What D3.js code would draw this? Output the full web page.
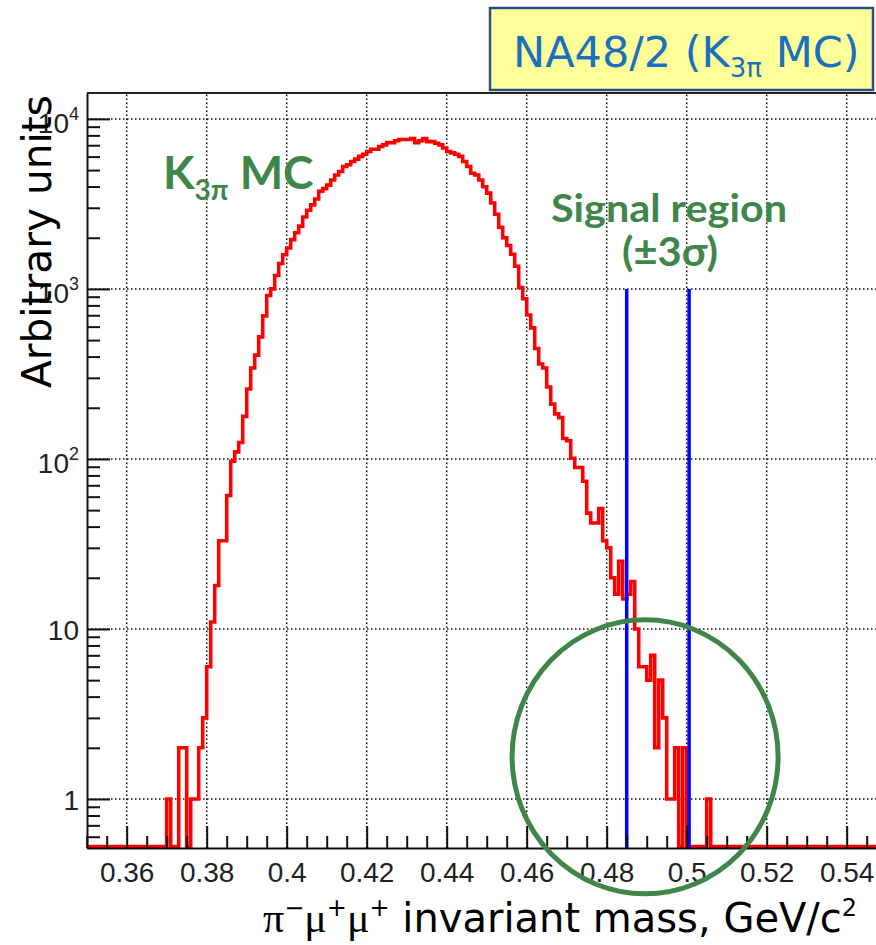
<!DOCTYPE html>
<html>
<head>
<meta charset="utf-8">
<script src="https://cdn.jsdelivr.net/npm/d3@7"></script>
<style>
  body { margin: 0; background: #fff; }
  svg { display: block; }
</style>
</head>
<body>
<div id="chart"></div>
<script>
// K3pi MC, pi- mu+ mu+ invariant mass (GeV/c2), 1 MeV bins starting at 0.370
const binStart = 0.370
const binWidth = 0.001
const counts = [
  1, 0, 0, 2, 2, 0, 1, 1, 2, 3, // 0.370
  6, 11, 18, 33, 33, 61, 97, 110, 125, 178, // 0.380
  258, 343, 408, 522, 694, 915, 1000, 1200, 1410, 1590, // 0.390
  1740, 1950, 2140, 2340, 2650, 2900, 3120, 3380, 3750, 3890, // 0.400
  4080, 4370, 4680, 4900, 5250, 5370, 5620, 5800, 6020, 6200, // 0.410
  6430, 6630, 6630, 6880, 7030, 7250, 7250, 7440, 7570, 7570, // 0.420
  7570, 7650, 7250, 7440, 7650, 7350, 7350, 7190, 7030, 6740, // 0.430
  6430, 6310, 6200, 6020, 5620, 5250, 4790, 4680, 4370, 3990, // 0.440
  3660, 3200, 2750, 2300, 2000, 1800, 1600, 1360, 1020, 875, // 0.450
  702, 590, 446, 362, 343, 265, 210, 184, 175, 132, // 0.460
  128, 101, 89, 89, 74, 48, 42, 42, 51, 33, // 0.470
  30, 20, 16, 25, 15, 16, 19, 10, 6, 6, // 0.480
  5, 7, 2, 5, 3, 1, 1, 2, 0, 2, // 0.490
  0, 0, 0, 0, 0, 1 // 0.500
]

const xMajorTicks = [0.36, 0.38, 0.40, 0.42, 0.44, 0.46, 0.48, 0.50, 0.52, 0.54]
const yMajorTicks = [1, 10, 100, 1000, 10000]
const yTickBase = ['1', '10', '10', '10', '10']
const yTickExp = ['', '', '2', '3', '4']
const yMinorTicks = [
  0.6, 0.7, 0.8, 0.9,
  2, 3, 4, 5, 6, 7, 8, 9,
  20, 30, 40, 50, 60, 70, 80, 90,
  200, 300, 400, 500, 600, 700, 800, 900,
  2000, 3000, 4000, 5000, 6000, 7000, 8000, 9000
]

const signalRegion = [0.485, 0.5006]
const signalTop = 1000
const circleCenter = [0.4896, 1.77]

const width = 876
const height = 945
const green = '#40864a'
const frame = { left: 87, right: 876, top: 93, bottom: 848 }

const x = d3.scaleLinear().domain([0.35, 0.55]).range([86.7, 886.7])
const y = d3.scaleLog().domain([0.515, 14200]).range([frame.bottom, frame.top])

const svg = d3.select('#chart')
  .append('svg')
  .attr('width', width)
  .attr('height', height)

svg.append('defs')
  .append('clipPath')
  .attr('id', 'plot-clip')
  .append('rect')
  .attr('x', frame.left)
  .attr('y', frame.top)
  .attr('width', frame.right - frame.left)
  .attr('height', frame.bottom - frame.top)

// dotted grid
const grid = svg.append('g')
  .attr('stroke', '#111')
  .attr('stroke-width', 1.5)
  .attr('stroke-dasharray', '1.5,2.5')
grid.selectAll('line.vgrid')
  .data(xMajorTicks)
  .join('line')
  .attr('class', 'vgrid')
  .attr('x1', d => x(d))
  .attr('x2', d => x(d))
  .attr('y1', frame.bottom)
  .attr('y2', frame.top)
grid.selectAll('line.hgrid')
  .data(yMajorTicks)
  .join('line')
  .attr('class', 'hgrid')
  .attr('x1', frame.left)
  .attr('x2', frame.right)
  .attr('y1', d => y(d))
  .attr('y2', d => y(d))

// histogram as a step line, empty bins sit on the axis
const histPoints = [[x.domain()[0], 0]]
counts.forEach((c, i) => histPoints.push([binStart + i * binWidth, c]))
histPoints.push([binStart + counts.length * binWidth, 0])
histPoints.push([x.domain()[1], 0])

const line = d3.line()
  .x(d => x(d[0]))
  .y(d => d[1] > 0 ? y(d[1]) : frame.bottom - 1.5)
  .curve(d3.curveStepAfter)

svg.append('path')
  .datum(histPoints)
  .attr('clip-path', 'url(#plot-clip)')
  .attr('d', line)
  .attr('fill', 'none')
  .attr('stroke', '#ff0000')
  .attr('stroke-width', 3.6)

// signal region
svg.append('g')
  .selectAll('line')
  .data(signalRegion)
  .join('line')
  .attr('x1', d => x(d))
  .attr('x2', d => x(d))
  .attr('y1', y(signalTop))
  .attr('y2', frame.bottom)
  .attr('stroke', '#0000ff')
  .attr('stroke-width', 3.5)

// axes
const axisStyle = g => {
  g.selectAll('.tick line').attr('stroke', '#111').attr('stroke-width', 2)
  g.select('.domain').attr('stroke', '#111').attr('stroke-width', 2)
}

svg.append('g')
  .attr('transform', `translate(${frame.left},0)`)
  .call(d3.axisLeft(y).tickValues(yMinorTicks).tickSizeInner(-13).tickSizeOuter(0).tickFormat(''))
  .call(axisStyle)
  .call(g => g.select('.domain').remove())

const yAxis = svg.append('g')
  .attr('transform', `translate(${frame.left},0)`)
  .call(d3.axisLeft(y).tickValues(yMajorTicks).tickSizeInner(-23).tickSizeOuter(0).tickFormat(''))
  .call(axisStyle)

yAxis.selectAll('.tick text').remove()
yAxis.selectAll('.tick')
  .append('text')
  .attr('x', -8)
  .attr('y', (d, i) => yTickExp[i] ? 13.5 : 11)
  .attr('text-anchor', 'end')
  .attr('font-family', 'Liberation Sans, Arial, sans-serif')
  .attr('font-size', 28)
  .attr('fill', '#222')
  .each(function (d, i) {
    const t = d3.select(this)
    t.append('tspan').text(yTickBase[i])
    if (yTickExp[i]) {
      t.append('tspan').attr('font-size', 18).attr('dy', -13).text(yTickExp[i])
    }
  })

const xMinorTicks = d3.range(0.35, 0.5501, 0.005)
  .filter(v => !xMajorTicks.some(m => Math.abs(m - v) < 1e-6))

svg.append('g')
  .attr('transform', `translate(0,${frame.bottom})`)
  .call(d3.axisBottom(x).tickValues(xMinorTicks).tickSizeInner(-12).tickSizeOuter(0).tickFormat(''))
  .call(axisStyle)
  .call(g => g.select('.domain').remove())

svg.append('g')
  .attr('transform', `translate(0,${frame.bottom})`)
  .call(d3.axisBottom(x).tickValues(xMajorTicks).tickSizeInner(-22).tickSizeOuter(0).tickFormat(d3.format('~g')))
  .call(axisStyle)
  .call(g => g.selectAll('.tick text')
    .attr('y', 34)
    .attr('dy', 0)
    .attr('font-family', 'Liberation Sans, Arial, sans-serif')
    .attr('font-size', 28)
    .attr('fill', '#222'))

// top frame line
svg.append('line')
  .attr('x1', frame.left)
  .attr('x2', frame.right)
  .attr('y1', frame.top)
  .attr('y2', frame.top)
  .attr('stroke', '#222')
  .attr('stroke-width', 2)

// axis titles
svg.append('text')
  .attr('transform', 'translate(51,388) rotate(-90)')
  .attr('font-family', 'DejaVu Sans, sans-serif')
  .attr('font-size', 41)
  .attr('fill', '#000')
  .attr('textLength', 293)
  .attr('lengthAdjust', 'spacingAndGlyphs')
  .text('Arbitrary units')

const xTitle = svg.append('text')
  .attr('x', 263)
  .attr('y', 932)
  .attr('font-family', 'DejaVu Sans, sans-serif')
  .attr('font-size', 40)
  .attr('fill', '#000')
xTitle.append('tspan').attr('font-family', 'Liberation Serif, serif').attr('font-size', 42).text('π')
xTitle.append('tspan').attr('font-size', 24).attr('dy', -16).text('−')
xTitle.append('tspan').attr('font-family', 'Liberation Serif, serif').attr('font-size', 42).attr('dy', 16).text('μ')
xTitle.append('tspan').attr('font-size', 24).attr('dy', -16).text('+')
xTitle.append('tspan').attr('font-family', 'Liberation Serif, serif').attr('font-size', 42).attr('dy', 16).text('μ')
xTitle.append('tspan').attr('font-size', 24).attr('dy', -16).text('+')
xTitle.append('tspan').attr('dy', 16).text(' invariant mass, GeV/c')
xTitle.append('tspan').attr('font-size', 24).attr('dy', -16).text('2')

// title box
svg.append('rect')
  .attr('x', 490)
  .attr('y', 8)
  .attr('width', 383)
  .attr('height', 82)
  .attr('fill', '#ffff99')
  .attr('stroke', '#2b4f81')
  .attr('stroke-width', 2.5)

const title = svg.append('text')
  .attr('x', 513)
  .attr('y', 67)
  .attr('font-family', 'DejaVu Sans, sans-serif')
  .attr('font-size', 43)
  .attr('fill', '#1a6fbf')
title.append('tspan').text('NA48/2 (K')
title.append('tspan').attr('font-size', 26).attr('dy', 10).text('3π')
title.append('tspan').attr('dy', -10).text(' MC)')

// annotations
const k3pi = svg.append('text')
  .attr('x', 163)
  .attr('y', 189)
  .attr('font-family', 'Lato, sans-serif')
  .attr('font-weight', 'bold')
  .attr('font-size', 46)
  .attr('fill', green)
k3pi.append('tspan').text('K')
k3pi.append('tspan').attr('font-size', 28).attr('dy', 11).text('3π')
k3pi.append('tspan').attr('dy', -11).text(' MC')

svg.append('text')
  .attr('x', 669)
  .attr('y', 222)
  .attr('text-anchor', 'middle')
  .attr('font-family', 'Lato, sans-serif')
  .attr('font-weight', 'bold')
  .attr('font-size', 39)
  .attr('fill', green)
  .attr('textLength', 236)
  .attr('lengthAdjust', 'spacingAndGlyphs')
  .text('Signal region')

svg.append('text')
  .attr('x', 670)
  .attr('y', 266)
  .attr('text-anchor', 'middle')
  .attr('font-family', 'Lato, sans-serif')
  .attr('font-weight', 'bold')
  .attr('font-size', 40)
  .attr('fill', green)
  .attr('textLength', 96)
  .attr('lengthAdjust', 'spacingAndGlyphs')
  .text('(±3σ)')

svg.append('ellipse')
  .attr('cx', x(circleCenter[0]))
  .attr('cy', y(circleCenter[1]))
  .attr('rx', 133)
  .attr('ry', 137)
  .attr('fill', 'none')
  .attr('stroke', green)
  .attr('stroke-width', 5)
</script>
</body>
</html>
